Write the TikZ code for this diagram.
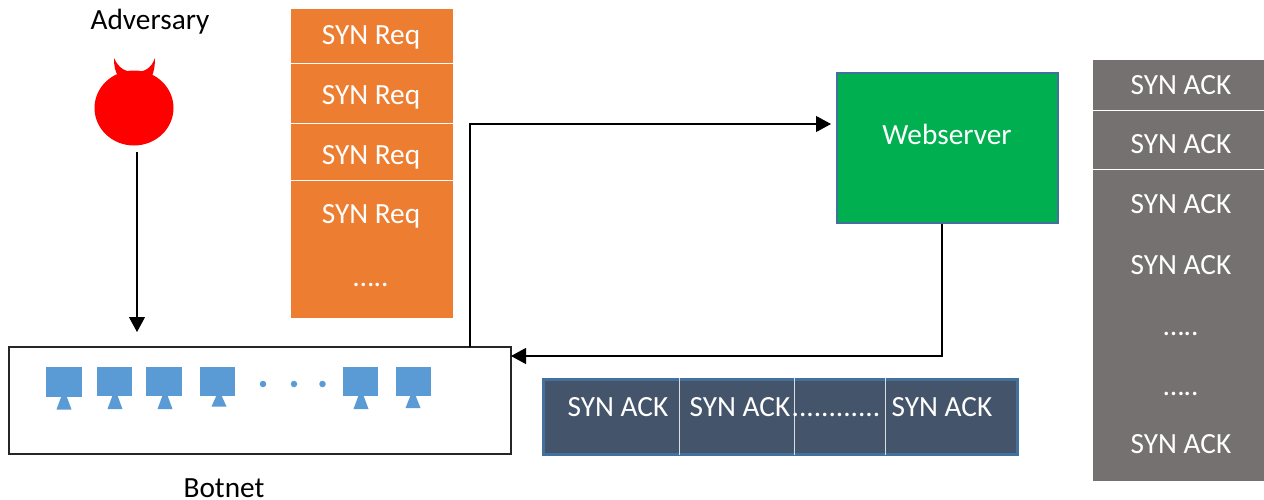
\documentclass[tikz,border=0pt]{standalone}
\usepackage{fontspec}
\setmainfont{Carlito}
\usetikzlibrary{arrows.meta,shapes.geometric}
\definecolor{orangeb}{HTML}{ED7D31}
\definecolor{greyb}{HTML}{767171}
\definecolor{navyb}{HTML}{44546A}
\definecolor{navyl}{HTML}{41719C}
\definecolor{greenb}{HTML}{00B050}
\definecolor{blueb}{HTML}{5B9BD5}
\tikzset{
  x=1pt,y=-1pt,
  lab/.style={font=\fontsize{29.3}{32}\selectfont,text=black,inner sep=0pt,text height=19pt,text depth=5pt},
  wlab/.style={lab,text=white},
  box/.style={anchor=north west,inner sep=0pt,outer sep=0pt},
  cell/.style={box,draw=white,line width=1pt},
  conn/.style={draw=black,line width=1.15pt,-{Triangle[length=15pt,width=16pt]}},
  screen/.style={box,fill=blueb,minimum width=35.5pt,minimum height=29.5pt},
  foot/.style={fill=blueb},
  bdot/.style={circle,fill=blueb,minimum size=6.5pt,inner sep=0pt},
}
\newcommand{\cellbox}[6]{\node[cell,fill=#6,minimum width=#4pt,minimum height=#5pt] (#1) at (#2,#3) {};}
\newcommand{\pcunit}[5]{%
  \node[screen] (#1) at (#2,#3) {};
  \fill[foot] (#4-2.5,#3+29) -- (#4+2.5,#3+29) -- (#4+7.5,#5) -- (#4-7.5,#5) -- cycle;}
\begin{document}
\begin{tikzpicture}
\useasboundingbox (0,0) rectangle (1264,499);
% labels
\node[lab] (adv) at (150,22) {Adversary};
\node[lab,text depth=0pt] (bot) at (224,487.5) {Botnet};
% devil
\fill[red] (134,108) ellipse [x radius=39.5,y radius=37.5];
\fill[red] (114,58) .. controls (119,69) and (126,72) .. (135,72) .. controls (144,72) and (151,69) .. (155,58)
  .. controls (155,66) and (154,71) .. (152,76) -- (118,76) .. controls (115,71) and (114,66) .. (114,58) -- cycle;
\coordinate (devil) at (137,152);
% orange stack
\cellbox{o1}{290.5}{8}{163}{55}{orangeb}
\cellbox{o2}{290.5}{63}{163}{60}{orangeb}
\cellbox{o3}{290.5}{123}{163}{57}{orangeb}
\cellbox{o4}{290.5}{180}{163}{138}{orangeb}
\node[wlab] (ot1) at (371,37) {SYN Req};
\node[wlab] (ot2) at (371,97) {SYN Req};
\node[wlab] (ot3) at (371,157) {SYN Req};
\node[wlab] (ot4) at (371,216) {SYN Req};
\node[wlab] (ot5) at (371,279) {…..};
% webserver
\node[box,fill=greenb,draw=navyl,line width=2.5pt,minimum width=221pt,minimum height=150pt] (web) at (837,73) {};
\node[wlab] (webt) at (947,137) {Webserver};
% grey stack
\cellbox{g1}{1092.5}{59}{172}{51}{greyb}
\cellbox{g2}{1092.5}{110}{172}{59}{greyb}
\cellbox{g3}{1092.5}{169}{172}{312}{greyb}
\node[wlab] (gt1) at (1181,87) {SYN ACK};
\node[wlab] (gt2) at (1181,146) {SYN ACK};
\node[wlab] (gt3) at (1181,206) {SYN ACK};
\node[wlab] (gt4) at (1181,267) {SYN ACK};
\node[wlab] (gt5) at (1181,328) {…..};
\node[wlab] (gt6) at (1181,388) {…..};
\node[wlab] (gt7) at (1181,446) {SYN ACK};
% navy row
\node[box,fill=navyb,draw=navyl,line width=3pt,minimum width=474pt,minimum height=75pt] (row) at (543.5,379.5) {};
\coordinate (d1t) at (679,378); \coordinate (d1b) at (679,455);
\coordinate (d2t) at (794,378); \coordinate (d2b) at (794,455);
\coordinate (d3t) at (885,378); \coordinate (d3b) at (885,455);
\draw[white!80!navyb,line width=1pt] (d1t) -- (d1b) (d2t) -- (d2b) (d3t) -- (d3b);
\node[wlab] (nt1) at (618,409) {SYN ACK};
\node[wlab] (nt2) at (740,409) {SYN ACK};
\node[wlab] (nt3) at (836,409) {............};
\node[wlab] (nt4) at (942,409) {SYN ACK};
% botnet box
\node[box,fill=white,draw=black!85,line width=1.2pt,minimum width=502pt,minimum height=107pt] (botbox) at (9,347) {};
\pcunit{p1}{46}{367}{64}{409.5}
\pcunit{p2}{96.5}{366.5}{115}{409}
\pcunit{p3}{146}{366.5}{165}{409}
\pcunit{p4}{199.5}{366.5}{219}{406.5}
\pcunit{p5}{342.5}{366.5}{361}{409}
\pcunit{p6}{395.5}{366.5}{413}{408}
\node[bdot] (b1) at (263,384) {};
\node[bdot] (b2) at (294,384) {};
\node[bdot] (b3) at (322.5,384) {};
% connectors
\coordinate (attack) at (137,332);
\draw[conn] (devil) -- (attack);
\coordinate (outb) at (470,347);
\coordinate (inw) at (831,124);
\draw[conn] (outb) |- (inw);
\coordinate (outw) at (942,224);
\coordinate (inb) at (511,356);
\draw[conn] (outw) |- (inb);
\end{tikzpicture}
\end{document}
